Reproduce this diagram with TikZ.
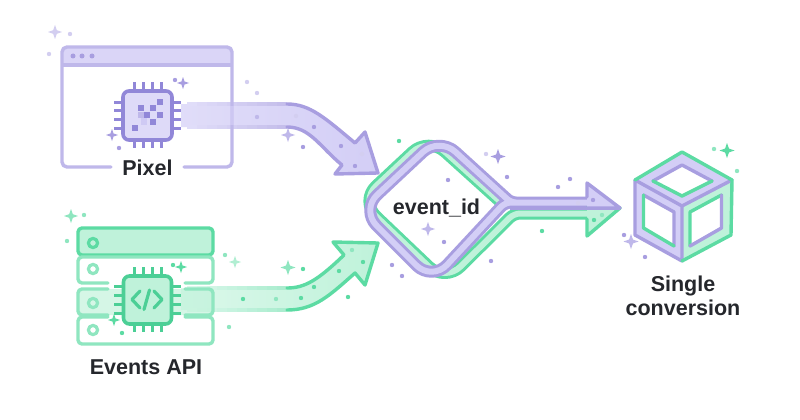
\documentclass[tikz,border=0pt]{standalone}
\usepackage{fontspec}
\setmainfont{Liberation Sans}
\usetikzlibrary{positioning,calc}
\definecolor{lavline}{HTML}{A89EE0}
\definecolor{lavdark}{HTML}{9187D8}
\definecolor{lavpale}{HTML}{BFB8EA}
\definecolor{lavfill}{HTML}{D3CEF6}
\definecolor{lavsoft}{HTML}{D3CEF0}
\definecolor{mintline}{HTML}{5CDBA3}
\definecolor{mintdark}{HTML}{4CCF96}
\definecolor{mintpale}{HTML}{8FE6C0}
\definecolor{mintfill}{HTML}{BFF2DA}
\definecolor{inktext}{HTML}{25272C}
\newcommand{\sparkle}[4]{\fill[#4] (#1pt,-#2pt) -- ++(#3*0.26pt,#3*0.74pt) -- ++(#3*0.74pt,#3*0.26pt) -- ++(-#3*0.74pt,#3*0.26pt) -- ++(-#3*0.26pt,#3*0.74pt) -- ++(-#3*0.26pt,-#3*0.74pt) -- ++(-#3*0.74pt,-#3*0.26pt) -- ++(#3*0.74pt,-#3*0.26pt) -- cycle;}
\begin{document}
\begin{tikzpicture}[x=1pt,y=-1pt,line join=round,
    lavband/.style={draw=lavline,line width=3.4pt,line cap=round},
    mintband/.style={draw=mintline,line width=3.4pt,line cap=round},
    winline/.style={draw=lavpale,line width=3.4pt,line cap=round,rounded corners=5pt},
    rowline/.style={draw=mintpale,line width=3.4pt,line cap=round,rounded corners=4pt},
    lavchip/.style={draw=lavdark,fill=lavfill!75!white,line width=3.6pt,rounded corners=6pt,minimum size=49pt,inner sep=0pt},
    mintchip/.style={draw=mintdark,fill=mintfill,line width=3.6pt,rounded corners=6pt,minimum size=48pt,inner sep=0pt},
    lavpin/.style={draw=lavdark,line width=3pt},
    mintpin/.style={draw=mintdark,line width=3pt},
    title/.style={font=\fontsize{21.5}{23.5}\selectfont\bfseries,text=inktext,align=center,inner sep=0pt}
  ]
    \useasboundingbox (0,0) rectangle (800,420);
    \fill[white] (0,0) rectangle (800,420);

    % Pixel arrow
    \path[left color=lavfill!70!white,right color=lavfill] (181,104) -- (287,104) .. controls (310,104) and (325,118) .. (355,143) -- (365,132) -- (378,173) -- (335,174) -- (342,165) .. controls (320,147) and (310,127) .. (287,127) -- (181,127) -- cycle;
    \foreach \i in {0,...,9}
      \pgfmathsetmacro{\mixval}{\i*10}
      \draw[draw=lavline!\mixval!lavfill!70!white,line width=3.2pt] (187+\i*10,104) -- (197+\i*10,104) (187+\i*10,127) -- (197+\i*10,127);
    \draw[lavband] (287,104) .. controls (310,104) and (325,118) .. (355,143) -- (365,132) -- (378,173) -- (335,174) -- (342,165) .. controls (320,147) and (310,127) .. (287,127);

    % Pixel window
    \fill[lavfill!85!white] (62,65) -- (62,53) [rounded corners=5pt] -- (62,47) -- (232,47) [sharp corners] -- (232,65) -- cycle;
    \draw[winline] (111,167) -- (62,167) -- (62,47) -- (232,47) -- (232,167) -- (184,167);
    \draw[draw=lavpale,line width=3.2pt] (62,65) -- (232,65);
    \fill[lavfill,opacity=0.7] (230,106) rectangle (234,125);
    \foreach \x in {73,82,92}
      \fill[lavline] (\x pt,-56pt) circle (2.5pt);

    % Pixel chip
    \foreach \x in {134,143,152,161} {
      \draw[lavpin] (\x,82) -- (\x,91);
      \draw[lavpin] (\x,140) -- (\x,148);
    }
    \foreach \y in {102,110,119,128} {
      \draw[lavpin] (114,\y) -- (123,\y);
      \draw[lavpin] (172,\y) -- (181,\y);
    }
    \node[lavchip] (pixelchip) at (147.5,115.5) {};
    \foreach \x/\y in {160/102,153/108,141/108,147/115,160/115,153/122,135/128}
      \fill[lavdark] (\x-3.2,\y-3.2) rectangle (\x+3.2,\y+3.2);
    \fill[lavpale] (138,112) rectangle (144.4,118.4);
    \fill[lavfill!80!lavpale] (141,118.4) rectangle (147.4,124.8);

    % Events arrow
    \path[left color=mintfill!55!white,right color=mintfill] (181,288) -- (287,288) .. controls (305,288) and (318,280) .. (344,255) -- (333,242) -- (378,243) -- (365,285) -- (355,273) .. controls (330,295) and (315,310) .. (287,310) -- (181,310) -- cycle;
    \foreach \i in {0,...,9}
      \pgfmathsetmacro{\mixval}{\i*10}
      \draw[draw=mintline!\mixval!mintfill!55!white,line width=3.2pt] (187+\i*10,288) -- (197+\i*10,288) (187+\i*10,310) -- (197+\i*10,310);
    \draw[mintband] (287,288) .. controls (305,288) and (318,280) .. (344,255) -- (333,242) -- (378,243) -- (365,285) -- (355,273) .. controls (330,295) and (315,310) .. (287,310);

    % Events server rows
    \draw[draw=mintline,fill=mintfill,line width=3.4pt,rounded corners=4pt] (78,228) rectangle (213,255);
    \draw[rowline] (108,283) -- (78,283) -- (78,257) -- (213,257) -- (213,283) -- (185,283);
    \fill[mintfill,opacity=0.65,rounded corners=4pt] (78,289) rectangle (213,315);
    \draw[rowline] (108,289) -- (78,289) -- (78,315) -- (108,315);
    \draw[rowline] (185,315) -- (213,315) -- (213,289) -- (185,289);
    \draw[rowline] (108,317) -- (78,317) -- (78,344) -- (213,344) -- (213,317) -- (185,317);
    \draw[draw=mintline,line width=3.2pt] (93pt,-243pt) circle (4.6pt);
    \foreach \y in {269,303,330}
      \draw[draw=mintpale,line width=3.2pt] (93pt,-\y pt) circle (4.6pt);

    % Events chip
    \foreach \x in {134,143,152,161} {
      \draw[mintpin] (\x,267) -- (\x,276);
      \draw[mintpin] (\x,324) -- (\x,332);
    }
    \foreach \y in {286,295,304,313} {
      \draw[mintpin] (114,\y) -- (123,\y);
      \draw[mintpin] (172,\y) -- (181,\y);
    }
    \node[mintchip] (eventschip) at (147.5,300) {};
    \draw[draw=mintdark,line width=3.2pt,line cap=round] (140,291) -- (132,299.5) -- (140,308) (149.5,290) -- (144,309.5) (154,291) -- (162,299.5) -- (154,308);

    % Merged loop
    \draw[draw=mintline,line width=12pt,line cap=butt] (590,213.5) [rounded corners=6pt] -- (514,213.5) [rounded corners=22pt] -- (445,282) -- (360,201) -- (428.5,137) -- (505,206);
    \draw[draw=mintfill,line width=6pt,line cap=butt] (592,213.5) [rounded corners=6pt] -- (514,213.5) [rounded corners=22pt] -- (445,282) -- (360,201) -- (428.5,137) -- (505,206);
    \draw[draw=lavline,line width=12pt,line cap=butt] (590,202.5) [rounded corners=6pt] -- (505,202.5) [rounded corners=22pt] -- (432,281) -- (361,210) -- (439,137) [rounded corners=5pt] -- (511,202.5) -- (540,202.5);
    \draw[draw=lavfill,line width=6pt,line cap=butt] (592,202.5) [rounded corners=6pt] -- (505,202.5) [rounded corners=22pt] -- (432,281) -- (361,210) -- (439,137) [rounded corners=5pt] -- (511,202.5) -- (540,202.5);

    % Merged head
    \draw[mintband,fill=mintfill] (587,219) -- (587,236) -- (620,208) -- (587,208);
    \draw[lavband,fill=lavfill] (587,197) -- (587,183) -- (620,208) -- (587,208);
    \draw[draw=lavline,line width=3pt] (620,208) -- (510,208);

    % Cube
    \fill[lavfill] (682,152) -- (732,180) -- (682,206) -- (682,261) -- (635,235) -- (635,180) -- cycle;
    \fill[mintfill] (732,180) -- (731,235) -- (682,261) -- (682,206) -- cycle;
    \draw[draw=lavline,line width=3.4pt,line cap=round] (635,180) -- (682,206) -- (732,180) (682,206) -- (682,261) -- (635,235) -- (635,180);
    \draw[mintband] (635,180) -- (682,152) -- (732,180) -- (731,235) -- (682,261);
    \fill[white] (682,165) -- (712,181) -- (682,196) -- (653,181) -- cycle;
    \draw[lavband] (653,181) -- (682,165) -- (712,181);
    \draw[mintband] (712,181) -- (682,196) -- (653,181);
    \fill[white] (643.5,195) -- (674,212) -- (674,246) -- (643.5,228) -- cycle;
    \draw[lavband] (643.5,195) -- (674,212) -- (674,246);
    \draw[mintband] (674,246) -- (643.5,228) -- (643.5,195);
    \fill[white] (690,212) -- (721.5,195) -- (721.5,228) -- (690,246) -- cycle;
    \draw[mintband] (690,246) -- (690,212) -- (721.5,195);
    \draw[lavband] (721.5,195) -- (721.5,228) -- (690,246);

    % Sparkles
    \sparkle{55}{39}{7}{lavsoft}
    \sparkle{183}{89}{6}{lavline}
    \sparkle{112}{141}{6}{lavline}
    \sparkle{288}{142}{7}{lavpale}
    \sparkle{71}{223}{7}{mintpale}
    \sparkle{235}{268}{6}{mintfill!70!mintpale}
    \sparkle{181}{273}{6}{mintline}
    \sparkle{114}{326}{6}{mintline}
    \sparkle{288}{275}{7.5}{mintpale}
    \sparkle{498}{164}{7.5}{lavline}
    \sparkle{428}{236}{7}{lavpale}
    \sparkle{727}{158}{7.5}{mintline}
    \sparkle{631}{249}{7.5}{lavpale}

    % Dots
    \foreach \x/\y in {70/34,49/54,247/82,257/93,296/116,362/154,486/154,578/203}
      \fill[lavsoft] (\x pt,-\y pt) circle (2.2pt);
    \fill[lavpale] (257pt,-117pt) circle (2.2pt);
    \foreach \x/\y in {175/80,119/148,303/147,314/127,341/146,355/166,448/180,507/177,558/187,570/179,593/200,444/242,392/265,402/276,491/261,624/235,645/257}
      \fill[lavline] (\x pt,-\y pt) circle (2.2pt);
    \foreach \x/\y in {84/215,67/241,225/255,229/327,276/299,352/250,602/215,714/149,737/171}
      \fill[mintpale] (\x pt,-\y pt) circle (2.2pt);
    \foreach \x/\y in {173/265,122/333,243/299,301/298,314/287,339/271,363/262,303/269,348/297,399/141,542/231,594/220}
      \fill[mintline] (\x pt,-\y pt) circle (2.2pt);

    % Labels
    \node[title] (pixellabel) at (147.5,168) {Pixel};
    \node[title] (eventslabel) at (146,367) {Events API};
    \node[title] (idlabel) at (436.5,208.5) {event\_id};
    \node[title] (cubelabel) at (683,296) {Single\\conversion};
  \end{tikzpicture}
\end{document}
